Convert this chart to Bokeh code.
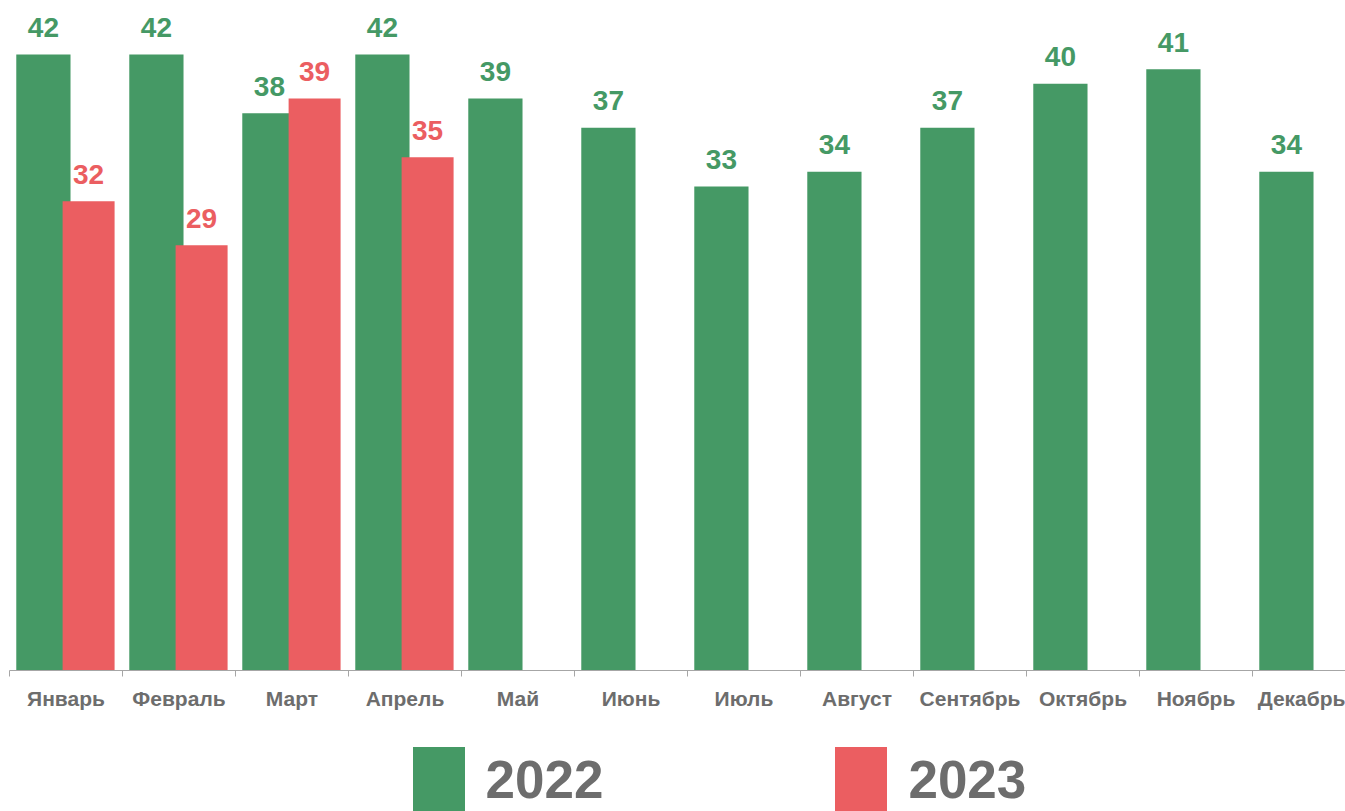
import numpy as np
from bokeh.plotting import figure
from bokeh.layouts import column
from bokeh.models import ColumnDataSource, Range1d, FixedTicker, Legend, LegendItem
from bokeh.transform import dodge
from bokeh.core.properties import value
from bokeh.embed import file_html
from bokeh.resources import INLINE

months = ["Январь", "Февраль", "Март", "Апрель", "Май", "Июнь",
          "Июль", "Август", "Сентябрь", "Октябрь", "Ноябрь", "Декабрь"]
values_2022 = [42, 42, 38, 42, 39, 37, 33, 34, 37, 40, 41, 34]
values_2023 = [32, 29, 39, 35]
series_labels = ["2022", "2023"]

GREEN = "#459965"
RED = "#EB5E61"
GREY = "#6d6d6d"
AXIS = "#a6a6a6"
FONT = value("Liberation Sans")

pos = np.arange(len(months)) + 0.5
src22 = ColumnDataSource(dict(x=pos, y=values_2022, t=[str(v) for v in values_2022]))
src23 = ColumnDataSource(dict(x=pos[:len(values_2023)], y=values_2023,
                              t=[str(v) for v in values_2023]))

p = figure(width=1345, height=730, output_backend="svg", toolbar_location=None,
           x_range=Range1d(0, 11.823), y_range=Range1d(0, 45.68),
           y_axis_location=None,
           min_border_left=9, min_border_right=0, min_border_top=0, min_border_bottom=60)
p.outline_line_color = None
p.xgrid.visible = False
p.ygrid.visible = False

green = p.vbar(x=dodge("x", -0.2), top="y", width=0.48, source=src22,
               fill_color=GREEN, line_color=None)
red = p.vbar(x=dodge("x", 0.2), top="y", width=0.46, source=src23,
             fill_color=RED, line_color=None)

p.text(x=dodge("x", -0.2), y="y", text="t", source=src22, text_align="center",
       text_baseline="alphabetic", y_offset=-27, text_font=FONT,
       text_font_style="bold", text_font_size="28px", text_color=GREEN)
p.text(x=dodge("x", 0.2), y="y", text="t", source=src23, text_align="center",
       text_baseline="alphabetic", y_offset=-27, text_font=FONT,
       text_font_style="bold", text_font_size="28px", text_color=RED)

ax = p.xaxis[0]
ax.ticker = FixedTicker(ticks=list(pos), minor_ticks=list(np.arange(len(months) + 1)))
ax.major_label_overrides = {float(x): m for x, m in zip(pos, months)}
ax.major_tick_line_color = None
ax.major_tick_out = 0
ax.major_tick_in = 0
ax.minor_tick_line_color = AXIS
ax.minor_tick_out = 6
ax.minor_tick_in = 0
ax.axis_line_color = AXIS
ax.major_label_text_font = "Liberation Sans"
ax.major_label_text_font_size = "21px"
ax.major_label_text_font_style = "bold"
ax.major_label_text_color = GREY
ax.major_label_standoff = 10

# legend strip below the chart (its glyph renderers reuse the data, out of view)
lg = figure(width=1345, height=81, output_backend="svg", toolbar_location=None,
            x_range=Range1d(-100, -99), y_range=Range1d(-100, -99),
            x_axis_location=None, y_axis_location=None,
            min_border_left=0, min_border_right=0, min_border_top=0, min_border_bottom=0)
lg.outline_line_color = None
lg.xgrid.visible = False
lg.ygrid.visible = False
lg_green = lg.vbar(x="x", top="y", width=0.48, source=src22,
                   fill_color=GREEN, line_color=None)
lg_red = lg.vbar(x="x", top="y", width=0.46, source=src23,
                 fill_color=RED, line_color=None)

legend = Legend(items=[LegendItem(label=series_labels[0], renderers=[lg_green]),
                       LegendItem(label=series_labels[1], renderers=[lg_red])],
                location=(396.5, -10.5), orientation="horizontal",
                glyph_width=65, glyph_height=84, label_standoff=15, spacing=225,
                padding=0, margin=0, border_line_color=None, background_fill_alpha=0,
                label_text_font="Liberation Sans", label_text_font_size="53px",
                label_text_font_style="bold", label_text_color=GREY)
lg.add_layout(legend, "center")

layout = column(p, lg, spacing=0)
open("out.html", "w").write(file_html(layout, INLINE))
